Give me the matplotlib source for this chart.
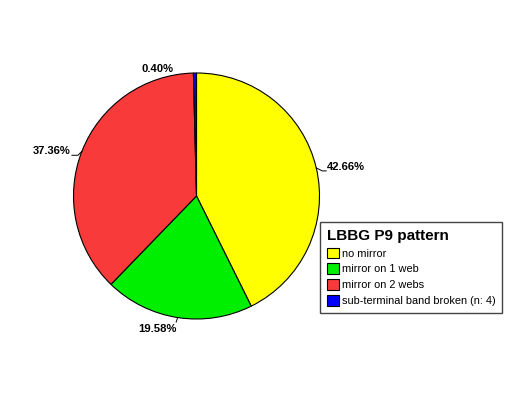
import numpy as np
import matplotlib
matplotlib.use("Agg")
import matplotlib.pyplot as plt
from matplotlib.patches import Patch

categories = ["no mirror", "mirror on 1 web", "mirror on 2 webs", "sub-terminal band broken (n: 4)"]
values = [42.66, 19.58, 37.36, 0.40]
labels = ["42.66%", "19.58%", "37.36%", "0.40%"]
colors = ["#ffff00", "#00ee00", "#f93a3a", "#0000ff"]
title = "LBBG P9 pattern"

W, H = 525, 393
fig = plt.figure(figsize=(W / 100, H / 100), dpi=100)
ax = fig.add_axes([0, 0, 1, 1])

cx, cy, r = 196.5, H - 196, 123
wedges, _ = ax.pie(values, colors=colors, startangle=90, counterclock=False,
                   center=(cx, cy), radius=r, frame=True,
                   wedgeprops=dict(edgecolor="black", linewidth=0.8))
ax.set_xlim(0, W)
ax.set_ylim(0, H)
ax.set_aspect("equal")
ax.axis("off")

font = dict(family="Liberation Sans", weight="bold", size=8.1)
# per-label leader/text layout
styles = [
    dict(lead=True, elbow=(6, -3), run=4, tdx=1, tdy=3.5, ha="left", va="center"),
    dict(lead=True, elbow=(-1.5, -4.5), run=0, tdx=-19, tdy=-7, ha="center", va="center"),
    dict(lead=True, elbow=(-4, -4), run=-6, tdx=-1, tdy=4, ha="right", va="center"),
    dict(lead=False, elbow=(0, 0), run=0, tdx=-37, tdy=4.5, ha="center", va="center"),
]
for w, lab, st in zip(wedges, labels, styles):
    ang = np.deg2rad((w.theta1 + w.theta2) / 2)
    x0, y0 = cx + r * np.cos(ang), cy + r * np.sin(ang)
    x1, y1 = x0 + st["elbow"][0], y0 + st["elbow"][1]
    x2 = x1 + st["run"]
    if st["lead"]:
        ax.plot([x0, x1, x2], [y0, y1, y1], color="black", lw=0.7)
        tx, ty = x2 + st["tdx"], y1 + st["tdy"]
    else:
        tx, ty = x0 + st["tdx"], y0 + st["tdy"]
    ax.text(tx, ty, lab, ha=st["ha"], va=st["va"], **font)

handles = [Patch(facecolor=c, edgecolor="black", linewidth=0.8) for c in colors]
leg = fig.legend(handles, categories, loc="upper left",
                 bbox_to_anchor=(320 / W, 1 - 222 / H), borderaxespad=0,
                 title=title, fancybox=False, framealpha=1,
                 edgecolor="#444444", borderpad=0.6, handlelength=1.1,
                 handleheight=1.1, handletextpad=0.3, labelspacing=0.45,
                 prop=dict(family="Liberation Sans", size=7.9),
                 title_fontproperties=dict(family="Liberation Sans", weight="bold", size=11),
                 alignment="left")
leg.get_frame().set_linewidth(1.0)

fig.savefig("out.png", dpi=100)
